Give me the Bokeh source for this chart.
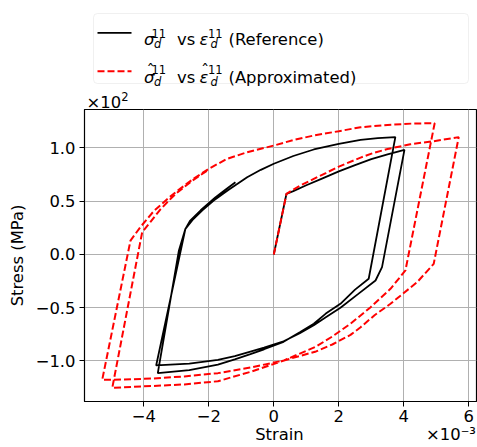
from bokeh.plotting import figure
from bokeh.models import Range1d, FixedTicker, BoxAnnotation, LinearAxis
from bokeh.layouts import column
from bokeh.core.properties import value
from bokeh.embed import file_html
from bokeh.resources import INLINE

# ---------------- data (strain in 1e-3, stress in MPa) ----------------
ref_strain = [0.0, 0.39, 0.6, 1.0, 1.5, 2.0, 2.5, 3.0, 3.5, 4.02,
              3.33, 3.13, 2.6, 2.05, 1.6, 1.23, 0.8, 0.3, -0.3, -0.72, -1.2, -1.72, -2.6, -3.62,
              -2.72, -2.5, -2.2, -1.85, -1.4, -0.82, -0.4, 0.0, 0.6, 1.23, 2.0, 2.67, 3.2, 3.74,
              2.92, 2.5, 2.05, 1.6, 1.23, 0.8, 0.3, -0.3, -0.72, -1.2, -1.72, -2.6, -3.57,
              -2.92, -2.72, -2.58, -2.25, -1.8, -1.5, -1.18]
ref_stress = [0.0, 57.0, 59.5, 65.0, 71.5, 78.0, 84.0, 89.5, 94.0, 98.3,
              -11.9, -24.4, -37.0, -50.0, -59.0, -66.5, -74.0, -81.5, -87.5, -91.2, -95.5, -99.0, -102.5, -104.2,
              24.1, 32.5, 41.5, 50.7, 60.5, 72.6, 79.5, 85.2, 92.5, 98.6, 103.9, 107.7, 109.3, 110.2,
              -22.8, -33.0, -46.3, -55.5, -65.0, -73.0, -82.0, -89.0, -93.5, -98.5, -103.5, -108.5, -111.4,
              3.75, 24.1, 31.5, 41.5, 53.5, 60.5, 67.9]

app_strain = [0.0, 0.39, 0.8, 1.23, 1.6, 2.0, 2.67, 3.08, 3.5, 4.2, 4.92, 5.69,
              4.92, 4.41, 3.59, 3.1, 2.67, 2.36, 1.8, 1.3, 0.31, -0.7, -1.72, -2.75, -3.77, -4.6, -5.28,
              -4.41, -4.1, -3.7, -3.3, -3.0, -2.5, -2.0, -1.43, -0.82, 0.0, 0.6, 1.23, 2.0, 2.67, 3.5, 4.3, 4.95,
              4.05, 3.59, 2.98, 2.36, 1.8, 1.3, 0.31, -0.7, -1.72, -2.75, -3.77, -4.97,
              -4.05, -3.8, -3.5, -3.2, -3.0, -2.5, -2.0]
app_stress = [0.0, 57.0, 64.5, 71.0, 76.5, 82.5, 91.0, 95.5, 99.0, 103.5, 106.4, 110.2,
              -8.8, -26.0, -46.3, -57.0, -68.3, -75.5, -84.5, -91.0, -99.5, -106.0, -111.4, -114.5, -116.5, -117.4, -117.7,
              13.1, 26.0, 40.5, 51.5, 59.0, 70.5, 80.5, 89.9, 96.0, 102.3, 107.5, 111.7, 115.8, 119.5, 121.7, 123.0, 123.3,
              -15.0, -32.2, -49.5, -65.0, -77.0, -86.5, -99.5, -110.0, -119.0, -122.0, -123.5, -125.2,
              21.0, 30.5, 42.0, 51.5, 57.5, 69.5, 79.8]

x_ticks = [-4, -2, 0, 2, 4, 6]
x_tick_labels = ["\u22124", "\u22122", "0", "2", "4", "6"]
y_ticks = [-1.0, -0.5, 0.0, 0.5, 1.0]
y_tick_labels = ["\u22121.0", "\u22120.5", "0.0", "0.5", "1.0"]
x_label_pos = [0.175, 5.452]
x_label_texts = ["Strain", "\u00d710\u207b\u00b3"]

FONT = "DejaVu Sans"
FS = "16.4px"
SFS = "11.5px"

W, H = 477, 447
LH = 108          # legend strip height
FL, FR = 84, 476  # frame left/right in page pixels


def txt(f, xs, ys, texts, size=FS, style="normal", align="left"):
    f.text(x=xs, y=ys, text=texts, text_font=value(FONT), text_font_size=value(size),
           text_font_style=style, text_color="black", text_baseline="alphabetic", text_align=align)


# ---------------- legend strip (page-pixel coordinates) ----------------
lg = figure(width=W, height=LH, x_range=Range1d(FL, FR), y_range=Range1d(LH, 0),
            toolbar_location=None, output_backend="svg",
            min_border_left=FL, min_border_right=W - FR, min_border_top=0, min_border_bottom=0,
            x_axis_type=None, y_axis_type=None)
lg.outline_line_color = None
lg.background_fill_color = "white"
lg.border_fill_color = "white"

lg.add_layout(BoxAnnotation(left=93, right=468, top=13, bottom=83, fill_color="white",
                            fill_alpha=1.0, line_color="#cccccc", line_width=1, border_radius=4,
                            level="underlay"))
lg.line([97, 131], [32.3, 32.3], line_color="black", line_width=1.8)
lg.line([97, 131], [70.7, 70.7], line_color="red", line_width=2, line_dash="7 3")

r1, r2 = 38.5, 76.9
txt(lg, [176.5, 228, 176.5, 228, 86], [r1, r1, r2, r2, 102.4],
    ["vs", "(Reference)", "vs", "(Approximated)", "\u00d710"])
txt(lg, [143.5, 199, 143.5, 199], [r1, r1, r2, r2], ["\u03c3", "\u03b5", "\u03c3", "\u03b5"], style="italic")
txt(lg, [151, 207.5, 151, 207.5, 120.7], [r1 - 5.5, r1 - 5.5, r2 - 8, r2 - 8, 96.4],
    ["11", "11", "11", "11", "2"], size=SFS)
txt(lg, [153.5, 210, 153.5, 210], [r1 + 4.5, r1 + 4.5, r2 + 4.5, r2 + 4.5], ["d", "d", "d", "d"],
    size=SFS, style="italic")
txt(lg, [150, 204.5], [r2 - 7.4, r2 - 7.4], ["\u02c6", "\u02c6"], align="center")

# ---------------- main figure ----------------
MH = H - LH
p = figure(width=W, height=MH, x_range=Range1d(-5.825, 6.237), y_range=Range1d(-1.3803, 1.3615),
           toolbar_location=None, output_backend="svg",
           min_border_left=FL, min_border_right=W - FR, min_border_top=1, min_border_bottom=46)
p.background_fill_color = "white"
p.border_fill_color = "white"
p.outline_line_color = "black"
p.outline_line_width = 1.2

xs_ref = [v for v in ref_strain]
ys_ref = [v / 100.0 for v in ref_stress]
xs_app = [v for v in app_strain]
ys_app = [v / 100.0 for v in app_stress]

p.line(xs_ref, ys_ref, line_color="black", line_width=1.8)
p.line(xs_app, ys_app, line_color="red", line_width=2, line_dash="7 3")

p.xaxis.ticker = FixedTicker(ticks=x_ticks)
p.yaxis.ticker = FixedTicker(ticks=y_ticks)
p.xgrid.ticker = FixedTicker(ticks=x_ticks)
p.ygrid.ticker = FixedTicker(ticks=y_ticks)
p.xaxis.major_label_overrides = dict(zip(x_ticks, x_tick_labels))
p.yaxis.major_label_overrides = dict(zip(y_ticks, y_tick_labels))

for ax in (p.xaxis, p.yaxis):
    ax.major_tick_out = 5
    ax.major_tick_in = 0
    ax.minor_tick_out = 0
    ax.minor_tick_in = 0
    ax.axis_line_color = "black"
    ax.major_tick_line_color = "black"
    ax.major_label_text_font = FONT
    ax.major_label_text_font_size = FS
    ax.major_label_text_color = "black"
p.xaxis.major_label_standoff = 3
p.yaxis.major_label_standoff = 4

p.yaxis.axis_label = "Stress (MPa)"
p.yaxis.axis_label_text_font = FONT
p.yaxis.axis_label_text_font_size = FS
p.yaxis.axis_label_text_font_style = "normal"
p.yaxis.axis_label_text_color = "black"
p.yaxis.axis_label_standoff = 6

p.grid.grid_line_color = "#b0b0b0"
p.grid.grid_line_width = 1

# second, line-less axis below the first one: carries "Strain" and the x offset text
lab_ax = LinearAxis(ticker=FixedTicker(ticks=x_label_pos),
                    major_label_overrides=dict(zip(x_label_pos, x_label_texts)))
lab_ax.axis_line_color = None
lab_ax.major_tick_line_color = None
lab_ax.minor_tick_line_color = None
lab_ax.major_tick_out = 0
lab_ax.major_tick_in = 0
lab_ax.minor_tick_out = 0
lab_ax.minor_tick_in = 0
lab_ax.major_label_standoff = 0
lab_ax.major_label_text_font = FONT
lab_ax.major_label_text_font_size = FS
lab_ax.major_label_text_color = "black"
p.add_layout(lab_ax, "below")

layout = column(lg, p)
open("out.html", "w").write(file_html(layout, INLINE))
